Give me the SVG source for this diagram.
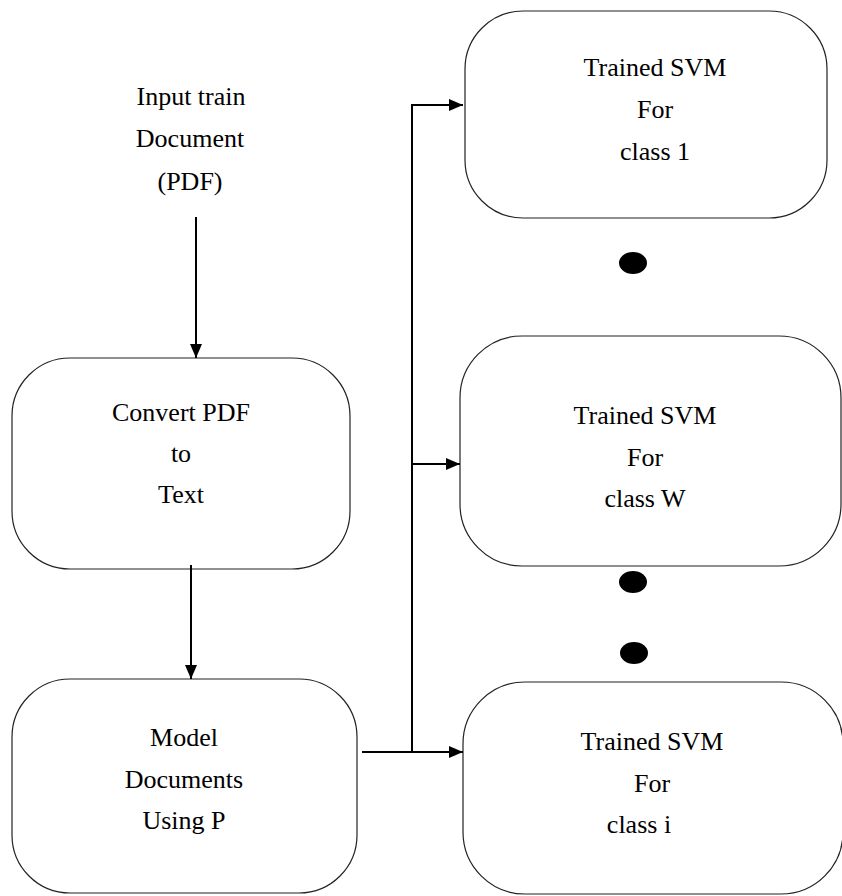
<svg xmlns="http://www.w3.org/2000/svg" width="842" height="896" viewBox="0 0 842 896">
<defs>
<marker id="arr" viewBox="0 0 14 12" refX="14" refY="6" markerWidth="14" markerHeight="12" markerUnits="userSpaceOnUse" orient="auto">
<path d="M0,0 L14,6 L0,12 Z" fill="#000"/>
</marker>
<style>
.box{fill:#fff;stroke:#222;stroke-width:1.2}
.t{font-size:26px;fill:#000;text-anchor:middle}
.c{fill:none;stroke:#000;stroke-width:2}
.dot{fill:#000}
</style>
</defs>
<rect width="842" height="896" fill="#fff"/>
<g font-family="'Liberation Serif', 'Times New Roman', 'DejaVu Serif', serif">
<g id="input">
<text class="t" x="191" y="105">Input train</text>
<text class="t" x="190" y="147">Document</text>
<text class="t" x="190" y="190">(PDF)</text>
</g>
<g id="convert">
<rect class="box" x="12" y="358" width="338" height="211" rx="58" ry="58"/>
<text class="t" x="181" y="421">Convert PDF</text>
<text class="t" x="181" y="462">to</text>
<text class="t" x="181" y="503">Text</text>
</g>
<g id="model">
<rect class="box" x="12" y="679" width="345" height="214" rx="58" ry="58"/>
<text class="t" x="184" y="746">Model</text>
<text class="t" x="184" y="788">Documents</text>
<text class="t" x="184" y="829">Using P</text>
</g>
<g id="svm1">
<rect class="box" x="465" y="11" width="362" height="207" rx="58" ry="58"/>
<text class="t" x="655" y="76">Trained SVM</text>
<text class="t" x="655" y="118">For</text>
<text class="t" x="655" y="160">class 1</text>
</g>
<g id="svmW">
<rect class="box" x="460" y="336" width="381" height="230" rx="62" ry="62"/>
<text class="t" x="645" y="424">Trained SVM</text>
<text class="t" x="645" y="466">For</text>
<text class="t" x="645" y="507">class W</text>
</g>
<g id="svmi">
<rect class="box" x="463" y="682" width="380" height="212" rx="62" ry="62"/>
<text class="t" x="652" y="750">Trained SVM</text>
<text class="t" x="652" y="792">For</text>
<text class="t" x="639" y="833">class i</text>
</g>
</g>
<g id="dots">
<ellipse class="dot" cx="633" cy="263" rx="14" ry="11"/>
<ellipse class="dot" cx="633" cy="582" rx="14" ry="11"/>
<ellipse class="dot" cx="634" cy="653" rx="14" ry="11"/>
</g>
<g id="connectors">
<line class="c" x1="196" y1="217" x2="196" y2="358" marker-end="url(#arr)"/>
<line class="c" x1="191" y1="565" x2="191" y2="679" marker-end="url(#arr)"/>
<line class="c" x1="362" y1="752" x2="463" y2="752" marker-end="url(#arr)"/>
<polyline class="c" points="412,752 412,105 463,105" marker-end="url(#arr)"/>
<line class="c" x1="412" y1="464" x2="460" y2="464" marker-end="url(#arr)"/>
</g>
</svg>
